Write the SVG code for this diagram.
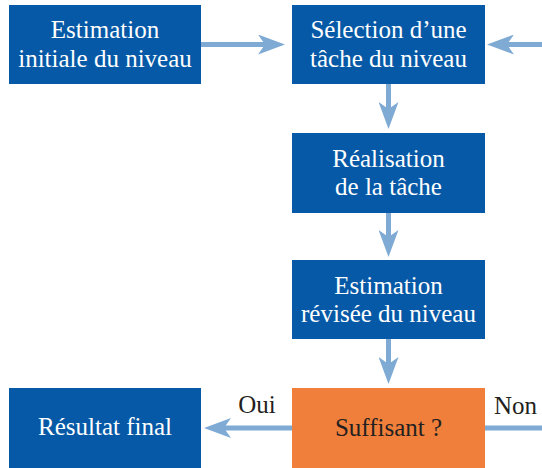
<svg xmlns="http://www.w3.org/2000/svg" width="542" height="468" viewBox="0 0 542 468">
<style>
.box{fill:#0659a6}
.dec{fill:#f07f3b}
.w{fill:#ffffff}
.d{fill:#231f20}
.c{fill:none;stroke:#7eaad4;stroke-width:5}
</style>
<defs>
<marker id="ah" viewBox="0 0 27 20" refX="7" refY="10" markerWidth="27" markerHeight="20" markerUnits="userSpaceOnUse" orient="auto">
<path d="M0,0 L27,10 L0,20 L7,10 Z" fill="#7eaad4"/>
</marker>
</defs>
<rect width="542" height="468" fill="#ffffff"/>
<g font-family="Liberation Serif, serif" font-size="25" text-anchor="middle">
<g id="connectors">
<path class="c" d="M201,44.5 H265" marker-end="url(#ah)"/>
<path class="c" d="M542,44.5 H507" marker-end="url(#ah)"/>
<path class="c" d="M388.5,84 V109" marker-end="url(#ah)"/>
<path class="c" d="M388.5,213 V237" marker-end="url(#ah)"/>
<path class="c" d="M388.5,339 V364" marker-end="url(#ah)"/>
<path class="c" d="M292,428 H224" marker-end="url(#ah)"/>
<path class="c" d="M485,428 H542"/>
<text class="d" x="257" y="413">Oui</text>
<text class="d" x="515.5" y="414">Non</text>
</g>
<g id="estimation-initiale">
<rect class="box" x="9" y="5" width="192" height="79"/>
<text class="w" x="105" y="38">Estimation</text>
<text class="w" x="105" y="67">initiale du niveau</text>
</g>
<g id="selection">
<rect class="box" x="292" y="5" width="193" height="79"/>
<text class="w" x="388.5" y="38">Sélection d’une</text>
<text class="w" x="388.5" y="67">tâche du niveau</text>
</g>
<g id="realisation">
<rect class="box" x="292" y="133" width="193" height="80"/>
<text class="w" x="388.5" y="167">Réalisation</text>
<text class="w" x="388.5" y="195">de la tâche</text>
</g>
<g id="estimation-revisee">
<rect class="box" x="292" y="260" width="193" height="79"/>
<text class="w" x="388.5" y="294">Estimation</text>
<text class="w" x="388.5" y="322">révisée du niveau</text>
</g>
<g id="suffisant">
<rect class="dec" x="292" y="388" width="193" height="80"/>
<text class="d" x="388.5" y="436">Suffisant ?</text>
</g>
<g id="resultat">
<rect class="box" x="9" y="388" width="192" height="80"/>
<text class="w" x="105" y="435">Résultat final</text>
</g>
</g>
</svg>
